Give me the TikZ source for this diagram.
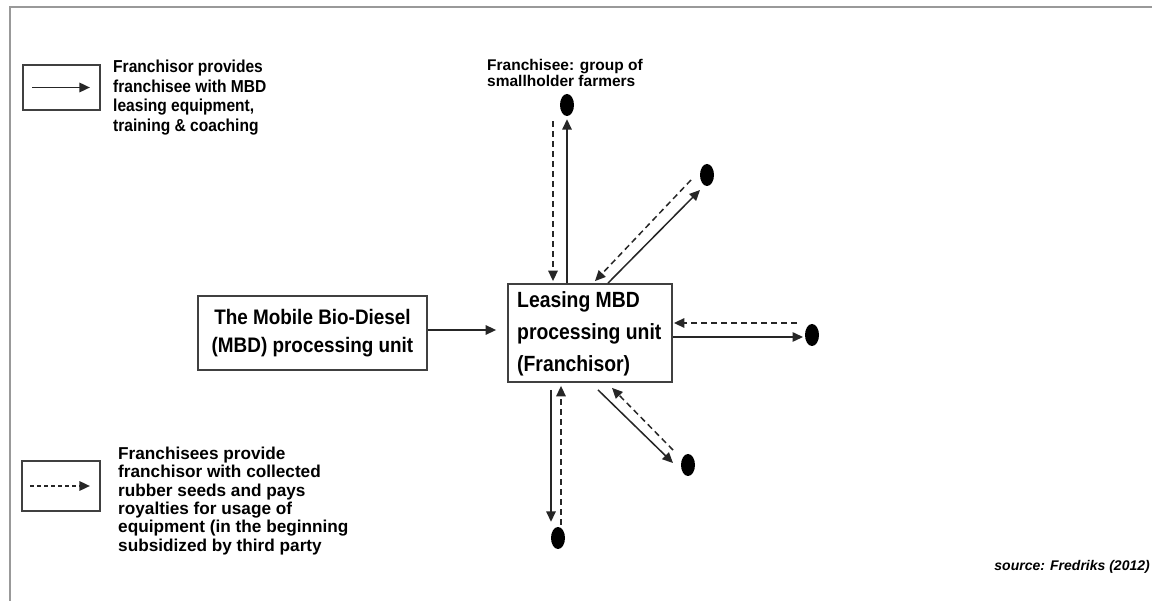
\documentclass[tikz,border=0pt]{standalone}
\usepackage{fontspec}
\setmainfont{Liberation Sans}
\newfontfamily\narrowsans{Liberation Sans}[FakeStretch=0.9]
\newfontfamily\slimsans{Liberation Sans}[FakeStretch=0.88]
\usetikzlibrary{arrows.meta,shapes.geometric}

\tikzset{
  box/.style={draw=black!75, line width=1.8pt, inner sep=0pt},
  farmer/.style={ellipse, fill=black, draw=none, minimum width=14pt, minimum height=22pt, inner sep=0pt},
  flow/.style={draw=black!85, line width=1.5pt, -{Triangle[length=10.5pt,width=9.5pt]}},
  back/.style={flow, dash pattern=on 6pt off 4pt},
  legendflow/.style={flow, line width=1.7pt},
  legendback/.style={legendflow, dash pattern=on 4pt off 3pt},
  label/.style={inner sep=0pt, align=left, font=\bfseries}
}

\begin{document}
\begin{tikzpicture}[x=1pt, y=-1pt]
\useasboundingbox (0,0) rectangle (1152,601);
\fill[white] (0,0) rectangle (1152,601);

% outer frame
\draw[black!40, line width=2pt] (1152,7) -- (10,7) -- (10,601);

% legend: solid arrow
\node[box, minimum width=77pt, minimum height=45pt] (legA) at (61.5,87.5) {};
\draw[legendflow] ([xshift=10pt]legA.west) -- ([xshift=-11pt]legA.east);
\node[label, anchor=north west, font=\bfseries\narrowsans\fontsize{17.3}{19.5}\selectfont] (legAtext) at (113,60)
  {Franchisor provides\\franchisee with MBD\\leasing equipment,\\training \& coaching};

% legend: dashed arrow
\node[box, minimum width=78pt, minimum height=50pt] (legB) at (61,486) {};
\draw[legendback] ([xshift=9pt]legB.west) -- ([xshift=-11pt]legB.east);
\node[label, anchor=north west, font=\bfseries\fontsize{17.2}{18.3}\selectfont] (legBtext) at (118,447)
  {Franchisees provide\\franchisor with collected\\rubber seeds and pays\\royalties for usage of\\equipment (in the beginning\\subsidized by third party};

% main boxes
\node[box, minimum width=229pt, minimum height=74pt, align=center,
      font=\bfseries\narrowsans\fontsize{21}{28}\selectfont] (mbd) at (312.5,333)
  {The Mobile Bio-Diesel\\(MBD) processing unit};
\node[box, minimum width=164pt, minimum height=98pt] (lease) at (590,333) {};
\node[label, anchor=west, font=\bfseries\slimsans\fontsize{22}{32}\selectfont] (leasetext) at (517,334)
  {Leasing MBD\\processing unit\\(Franchisor)};

\draw[flow, shorten >=11pt] ([yshift=3pt]mbd.east) -- ([yshift=3pt]lease.west);

% franchisees
\node[farmer] (top) at (567,105) {};
\node[farmer] (ne) at (707,175) {};
\node[farmer] (east) at (812,335) {};
\node[farmer] (se) at (688,465) {};
\node[farmer] (south) at (558,538) {};

\node[label, anchor=north west, font=\bfseries\fontsize{15.5}{16.5}\selectfont] (toplabel) at (487,59)
  {Franchisee: group of\\smallholder farmers};

% up
\draw[flow, shorten >=3pt] ([xshift=-23pt]lease.north) -- (top.south);
\draw[back, shorten >=2pt] ([xshift=-14pt,yshift=-5pt]top.south) -- ([xshift=-37pt]lease.north);

% north-east
\draw[flow] ([xshift=18pt]lease.north) -- ([xshift=-7pt,yshift=-15pt]ne.center);
\draw[back] ([xshift=-16pt,yshift=-5pt]ne.center) -- ([xshift=5pt,yshift=2pt]lease.north);

% east
\draw[back] ([xshift=-15pt,yshift=12pt]east.center) -- ([xshift=1pt,yshift=10pt]lease.east);
\draw[flow] ([yshift=-4pt]lease.east) -- ([xshift=-9pt,yshift=-2pt]east.center);

% south-east
\draw[flow] ([xshift=8pt,yshift=-7pt]lease.south) -- ([xshift=-15pt,yshift=2pt]se.center);
\draw[back] ([xshift=-15pt,yshift=15pt]se.center) -- ([xshift=22pt,yshift=-5pt]lease.south);

% south
\draw[flow] ([xshift=-39pt,yshift=-7pt]lease.south) -- ([xshift=-7pt,yshift=5pt]south.north);
\draw[back] ([xshift=3pt,yshift=2pt]south.north) -- ([xshift=-29pt,yshift=-3pt]lease.south);

% source
\node[inner sep=0pt, anchor=base east, font=\bfseries\itshape\fontsize{14}{16}\selectfont] (source) at (1150,570)
  {source: Fredriks (2012)};
\end{tikzpicture}
\end{document}
